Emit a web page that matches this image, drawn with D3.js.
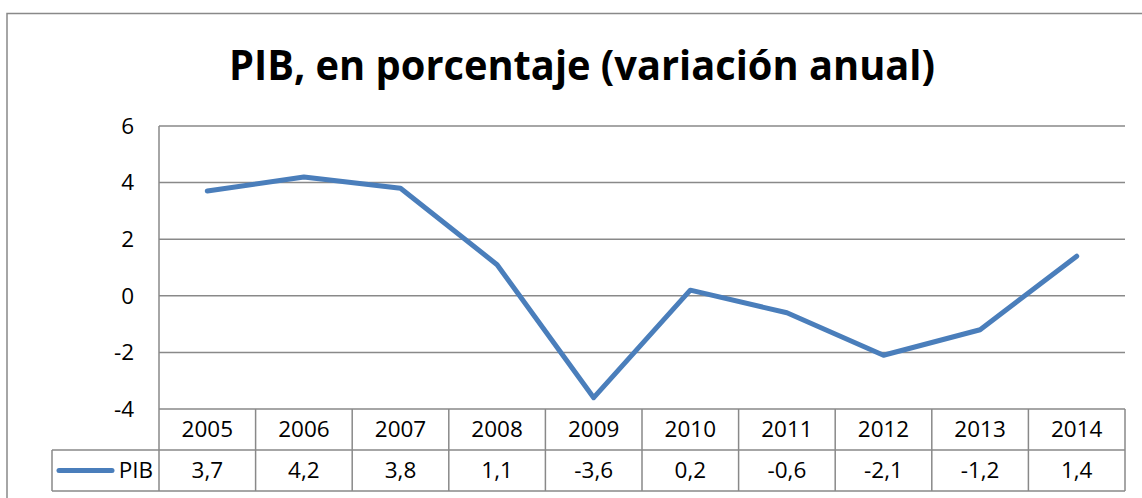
<!DOCTYPE html>
<html>
<head>
<meta charset="utf-8">
<script src="https://cdn.jsdelivr.net/npm/d3@7"></script>
<style>
	body { margin: 0; background: #fff; }
	svg { display: block; }
	text { font-family: "Open Sans", "Noto Sans", sans-serif; fill: #000; }
</style>
</head>
<body>
<div id="chart"></div>
<script>
/* eslint-disable no-magic-numbers */

var years = ["2005", "2006", "2007", "2008", "2009", "2010", "2011", "2012", "2013", "2014"],
	pib = [3.7, 4.2, 3.8, 1.1, -3.6, 0.2, -0.6, -2.1, -1.2, 1.4],
	yTicks = [6, 4, 2, 0, -2, -4],
	seriesName = "PIB",
	title = "PIB, en porcentaje (variación anual)";

(function() {
	'use strict';

	var width = 1142,
		height = 498,
		left = 159,
		right = 1125,
		top = 126,
		bottom = 409,
		rowH = 41,
		legendLeft = 52,
		grid = "#898989",
		blue = "#4a7ebb",
		fs = "22.5px",
		fmt = function(d) { return String(d).replace(".", ","); },
		svg, x, y, line;

	svg = d3.select("#chart")
		.append("svg")
		.attr("width", width)
		.attr("height", height);

	// outer chart frame
	svg.append("rect")
		.attr("x", 7)
		.attr("y", 13.5)
		.attr("width", width)
		.attr("height", height)
		.attr("fill", "none")
		.attr("stroke", grid)
		.attr("stroke-width", 1.5);

	svg.append("text")
		.attr("x", 582)
		.attr("y", 80)
		.attr("text-anchor", "middle")
		.style("font-size", "41px")
		.style("font-weight", "bold")
		.attr("textLength", 706)
		.attr("lengthAdjust", "spacingAndGlyphs")
		.text(title);

	x = d3.scaleBand()
		.domain(years)
		.range([left, right]);

	y = d3.scaleLinear()
		.domain([-4, 6])
		.range([bottom, top]);

	// gridlines
	svg.append("g")
		.selectAll("line")
		.data(yTicks)
		.join("line")
		.attr("x1", left)
		.attr("x2", right)
		.attr("y1", function(d) { return y(d); })
		.attr("y2", function(d) { return y(d); })
		.attr("stroke", grid)
		.attr("stroke-width", 1.5);

	// y axis line
	svg.append("line")
		.attr("x1", left).attr("x2", left)
		.attr("y1", top).attr("y2", bottom + 2 * rowH)
		.attr("stroke", grid)
		.attr("stroke-width", 1.5);

	svg.append("g")
		.selectAll("text")
		.data(yTicks)
		.join("text")
		.attr("x", 134)
		.attr("y", function(d) { return y(d); })
		.attr("dy", "0.35em")
		.attr("text-anchor", "end")
		.style("font-size", fs)
		.text(function(d) { return d; });

	// data table
	var table = svg.append("g");

	table.append("line")
		.attr("x1", legendLeft).attr("x2", right)
		.attr("y1", bottom + rowH).attr("y2", bottom + rowH)
		.attr("stroke", grid).attr("stroke-width", 1.5);
	table.append("line")
		.attr("x1", legendLeft).attr("x2", right)
		.attr("y1", bottom + 2 * rowH).attr("y2", bottom + 2 * rowH)
		.attr("stroke", grid).attr("stroke-width", 1.5);
	table.append("line")
		.attr("x1", legendLeft).attr("x2", legendLeft)
		.attr("y1", bottom + rowH).attr("y2", bottom + 2 * rowH)
		.attr("stroke", grid).attr("stroke-width", 1.5);

	table.selectAll(".sep")
		.data(years)
		.join("line")
		.attr("class", "sep")
		.attr("x1", function(d) { return x(d) + x.bandwidth(); })
		.attr("x2", function(d) { return x(d) + x.bandwidth(); })
		.attr("y1", bottom)
		.attr("y2", bottom + 2 * rowH)
		.attr("stroke", grid)
		.attr("stroke-width", 1.5);

	table.selectAll(".yr")
		.data(years)
		.join("text")
		.attr("class", "yr")
		.attr("x", function(d) { return x(d) + x.bandwidth() / 2; })
		.attr("y", bottom + rowH / 2)
		.attr("dy", "0.35em")
		.attr("text-anchor", "middle")
		.style("font-size", fs)
		.text(function(d) { return d; });

	table.selectAll(".val")
		.data(pib)
		.join("text")
		.attr("class", "val")
		.attr("x", function(d, i) { return x(years[i]) + x.bandwidth() / 2; })
		.attr("y", bottom + rowH * 1.5)
		.attr("dy", "0.35em")
		.attr("text-anchor", "middle")
		.style("font-size", fs)
		.text(fmt);

	// legend key
	table.append("line")
		.attr("x1", 59).attr("x2", 112)
		.attr("y1", bottom + rowH * 1.5).attr("y2", bottom + rowH * 1.5)
		.attr("stroke", blue)
		.attr("stroke-width", 5)
		.attr("stroke-linecap", "round");
	table.append("text")
		.attr("x", 153)
		.attr("y", bottom + rowH * 1.5)
		.attr("dy", "0.35em")
		.attr("text-anchor", "end")
		.style("font-size", fs)
		.text(seriesName);

	line = d3.line()
		.x(function(d, i) { return x(years[i]) + x.bandwidth() / 2; })
		.y(function(d) { return y(d); });

	svg.append("path")
		.datum(pib)
		.attr("fill", "none")
		.attr("stroke", blue)
		.attr("stroke-width", 5)
		.attr("stroke-linejoin", "round")
		.attr("stroke-linecap", "round")
		.attr("d", line);
})();
</script>
</body>
</html>
